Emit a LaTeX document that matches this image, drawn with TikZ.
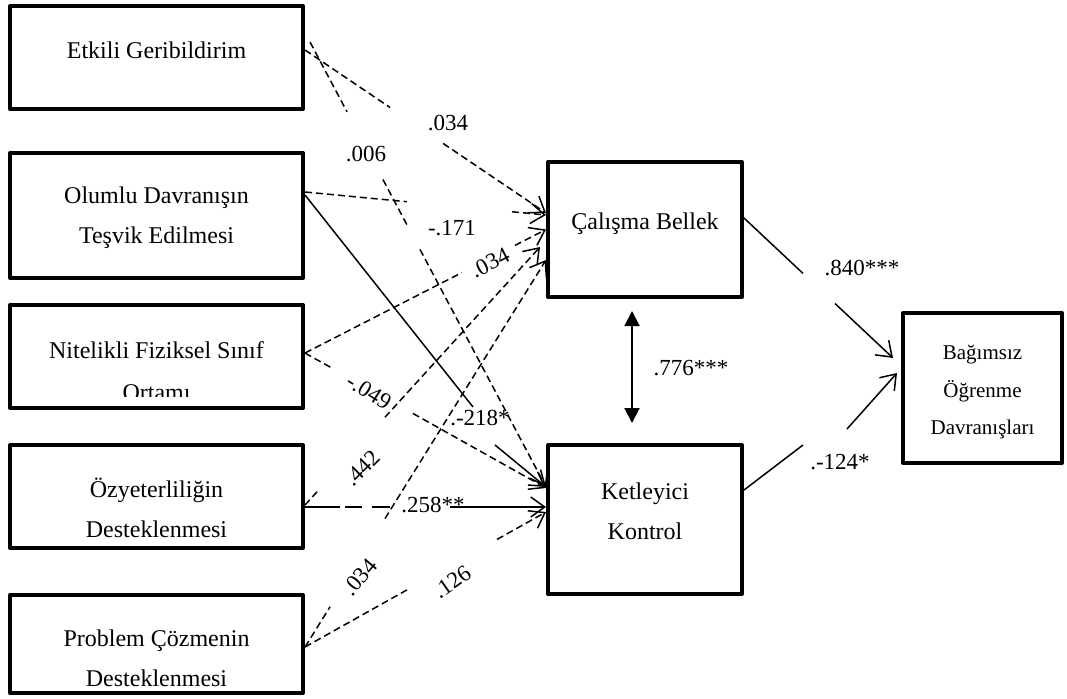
\documentclass[tikz,border=0pt]{standalone}
\usepackage{fontspec}
\setmainfont{Liberation Serif}
\usetikzlibrary{arrows.meta,calc}
\begin{document}
\begin{tikzpicture}[x=1pt,y=-1pt,
  box/.style={draw, line width=4pt, inner sep=0pt, line join=round},
  txt/.style={font=\fontsize{24}{40}\selectfont, align=center, inner sep=0pt},
  stxt/.style={font=\fontsize{21}{37.5}\selectfont, align=center, inner sep=0pt},
  lab/.style={font=\fontsize{23}{23}\selectfont, inner sep=0pt},
  con/.style={line width=1.5pt},
  dsh/.style={con, dash pattern=on 7pt off 4pt},
  arr/.style={-{Straight Barb[length=14pt,width=20pt]}},
  dbl/.style={line width=2pt, {Triangle[length=15pt,width=15pt]}-{Triangle[length=15pt,width=15pt]}}]
\useasboundingbox (0,0) rectangle (1067,698);
% boxes
\node[box, minimum width=293pt, minimum height=103pt] (etk) at (156.5,57.5) {};
\node[box, minimum width=293pt, minimum height=125pt] (olu) at (156.5,215.5) {};
\node[box, minimum width=293pt, minimum height=103pt] (nit) at (156.5,356.5) {};
\node[box, minimum width=293pt, minimum height=103pt] (ozy) at (156.5,496.5) {};
\node[box, minimum width=293pt, minimum height=98pt] (prb) at (156.5,644) {};
\node[box, minimum width=194pt, minimum height=135pt] (cb) at (645,229.5) {};
\node[box, minimum width=194pt, minimum height=149pt] (kk) at (645,519.5) {};
\node[box, minimum width=159pt, minimum height=150pt] (bag) at (982.5,388) {};
% texts
\node[txt] (etkT) at (156.5,50) {Etkili Geribildirim};
\node[txt] (oluT) at (156.5,218) {Olumlu Davranışın\\Teşvik Edilmesi};
\node[txt] (nitT) at (156.5,350) {Nitelikli Fiziksel Sınıf};
\begin{scope}
\clip (12,300) rectangle (301,396);
\node[txt, anchor=base] (nitT2) at (156.5,400) {Ortamı};
\end{scope}
\node[txt] (ozyT) at (156.5,508) {Özyeterliliğin\\Desteklenmesi};
\node[txt] (prbT) at (156.5,658) {Problem Çözmenin\\Desteklenmesi};
\node[txt] (cbT) at (645,224) {Çalışma Bellek};
\node[txt] (kkT) at (645,511.5) {Ketleyici\\Kontrol};
\node[stxt] (bagT) at (982.5,392.5) {Bağımsız\\Öğrenme\\Davranışları};
% anchor coordinates
\coordinate (e1s) at ([yshift=7.5pt]etk.east);
\coordinate (e1t) at ([yshift=16.5pt]cb.west);
\coordinate (e2s) at ([xshift=5pt,yshift=15.5pt]etk.east);
\coordinate (e2t) at ([yshift=32.5pt]kk.west);
\coordinate (o1s) at ([yshift=23.5pt]olu.east);
\coordinate (o1t) at ([yshift=14.5pt]cb.west);
\coordinate (o2s) at ([yshift=20.5pt]olu.east);
\coordinate (o2a) at (473,407);
\coordinate (o2b) at (495,445);
\coordinate (o2t) at ([yshift=32.5pt]kk.west);
\coordinate (n1s) at ([yshift=3.5pt]nit.east);
\coordinate (n1t) at (cb.west);
\coordinate (n2t) at ([yshift=31.5pt]kk.west);
\coordinate (z1s) at ([yshift=-8.5pt]ozy.east);
\coordinate (z1t) at ([xshift=-6pt,yshift=-17.5pt]cb.west);
\coordinate (z2s) at ([yshift=-10.5pt]ozy.east);
\coordinate (z2t) at ([yshift=12.5pt]kk.west);
\coordinate (p1s) at ([yshift=-3pt]prb.east);
\coordinate (p1t) at ([yshift=-30.5pt]cb.west);
\coordinate (p2t) at ([yshift=7.5pt]kk.west);
\coordinate (c1s) at ([yshift=11.5pt]cb.east);
\coordinate (c1t) at ([xshift=-8pt,yshift=30pt]bag.west);
\coordinate (k1s) at ([yshift=29.5pt]kk.east);
\coordinate (k1a) at (803,445);
\coordinate (k1b) at (847,429);
\coordinate (k1t) at ([xshift=-4pt,yshift=15pt]bag.west);
\coordinate (vt) at ([xshift=-13pt,yshift=-12pt]cb.south);
\coordinate (vb) at ([xshift=-13pt,yshift=20pt]kk.north);
% Etkili -> CB
\draw[dsh] (e1s) -- ($(e1s)!0.353!(e1t)$);
\draw[dsh,arr] ($(e1s)!0.573!(e1t)$) -- (e1t);
% Etkili -> KK
\draw[dsh] (e2s) -- ($(e2s)!0.157!(e2t)$);
\draw[dsh] ($(e2s)!0.309!(e2t)$) -- ($(e2s)!0.411!(e2t)$);
\draw[dsh,arr] ($(e2s)!0.466!(e2t)$) -- (e2t);
% Olumlu -> CB
\draw[dsh] (o1s) -- ($(o1s)!0.423!(o1t)$);
\draw[dsh,arr] ($(o1s)!0.859!(o1t)$) -- (o1t);
% Olumlu -> KK
\draw[con] (o2s) -- (o2a);
\draw[con,arr] (o2b) -- (o2t);
% Nitelikli -> CB
\draw[dsh] (n1s) -- ($(n1s)!0.651!(n1t)$);
\draw[dsh,arr] ($(n1s)!0.871!(n1t)$) -- (n1t);
% Nitelikli -> KK
\draw[dsh] (n1s) -- ($(n1s)!0.112!(n2t)$);
\draw[dsh,arr] ($(n1s)!0.448!(n2t)$) -- (n2t);
% Ozyeterlilik -> CB
\draw[dsh] (z1s) -- ($(z1s)!0.062!(z1t)$);
\draw[dsh,arr] ($(z1s)!0.34!(z1t)$) -- (z1t);
% Ozyeterlilik -> KK
\draw[con] (z2s) -- ($(z2s)!0.145!(z2t)$);
\draw[con] ($(z2s)!0.166!(z2t)$) -- ($(z2s)!0.237!(z2t)$);
\draw[con] ($(z2s)!0.278!(z2t)$) -- ($(z2s)!0.353!(z2t)$);
\draw[con,arr] ($(z2s)!0.602!(z2t)$) -- (z2t);
% Problem -> CB
\draw[dsh] (p1s) -- ($(p1s)!0.104!(p1t)$);
\draw[dsh,arr] ($(p1s)!0.332!(p1t)$) -- (p1t);
% Problem -> KK
\draw[dsh] (p1s) -- ($(p1s)!0.423!(p2t)$);
\draw[dsh,arr] ($(p1s)!0.797!(p2t)$) -- (p2t);
% CB -> Bag, KK -> Bag
\draw[con] (c1s) -- ($(c1s)!0.396!(c1t)$);
\draw[con,arr] ($(c1s)!0.611!(c1t)$) -- (c1t);
\draw[con] (k1s) -- (k1a);
\draw[con,arr] (k1b) -- (k1t);
% correlation
\draw[dbl] (vt) -- (vb);
% labels
\node[lab] (l1) at (448,123) {.034};
\node[lab] (l2) at (366,154) {.006};
\node[lab] (l3) at (452,228) {-.171};
\node[lab, rotate=27] (l4) at (490,263) {.034};
\node[lab, rotate=-32] (l5) at (369,392) {-.049};
\node[lab] (l6) at (480,418) {.-218*};
\node[lab, rotate=45] (l7) at (362,468) {.442};
\node[lab] (l8) at (433,505) {.258**};
\node[lab, rotate=50] (l9) at (360,577) {.034};
\node[lab, rotate=35] (l10) at (452,582) {.126};
\node[lab] (l11) at (862,268) {.840***};
\node[lab] (l12) at (840,462) {.-124*};
\node[lab] (l13) at (691,368) {.776***};
\end{tikzpicture}
\end{document}
